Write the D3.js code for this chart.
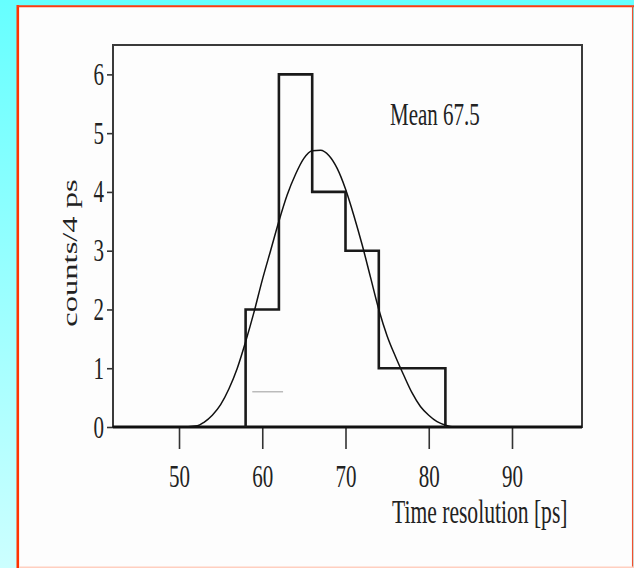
<!DOCTYPE html>
<html>
<head>
<meta charset="utf-8">
<script src="https://cdn.jsdelivr.net/npm/d3@7"></script>
<style>
  body { margin: 0; padding: 0; overflow: hidden; }
  text { font-family: "Liberation Serif", "Times New Roman", serif; fill: #222; }
</style>
</head>
<body>
<div id="main"></div>
<script>
const ctx = {
    w: 634,
    h: 568,
    plot: {left: 113, top: 45, right: 582, bottom: 427},
    STRETCH: 1.55,
    FONT: 21
};

// histogram bins (4 ps wide) and counts
const binEdges = [58, 62, 66, 70, 74, 78, 82];
const counts = [2, 6, 4, 3, 1, 1];
// fitted curve, points [ps, counts]
const fitCurve = [
    [42, 0], [50, 0], [52.2, 0.02], [53, 0.08], [54, 0.2], [55, 0.38], [56, 0.65],
    [57, 1.0], [58, 1.45], [59, 1.95], [60, 2.5], [61, 3.0], [62, 3.5], [63, 3.95],
    [64, 4.3], [65, 4.57], [66, 4.7], [67, 4.71], [68, 4.62], [69, 4.4], [70, 4.05],
    [71, 3.6], [72, 3.1], [73, 2.55], [74, 2.0], [75, 1.55], [76, 1.2], [77, 0.88],
    [78, 0.58], [79, 0.35], [80, 0.2], [81, 0.09], [82, 0.03], [83, 0], [88.5, 0]
];
// stray light grey dash in the original
const greyDash = [[58.8, 0.6], [62.5, 0.6]];
const xTicks = [50, 60, 70, 80, 90];
const yTicks = [0, 1, 2, 3, 4, 5, 6];
const xDomain = [42.07, 98.41];
const yDomain = [0, 6.5];
const xTitle = "Time resolution [ps]";
const yTitle = "counts/4 ps";
const note = "Mean 67.5";

function createViz(){
    let svgEl = d3.select("#main").append("svg")
        .attr("width", ctx.w)
        .attr("height", ctx.h);

    // page background: cyan fading down
    let grad = svgEl.append("defs").append("linearGradient")
        .attr("id", "bg")
        .attr("x1", 0).attr("y1", 0).attr("x2", 0).attr("y2", 1);
    grad.append("stop").attr("offset", "0%").attr("stop-color", "#66ffff");
    grad.append("stop").attr("offset", "100%").attr("stop-color", "#ccffff");
    svgEl.append("rect")
        .attr("width", ctx.w).attr("height", ctx.h)
        .attr("fill", "url(#bg)");

    // white slide panel with red edges
    svgEl.append("rect")
        .attr("x", 17).attr("y", 6)
        .attr("width", 616).attr("height", 562)
        .attr("fill", "#fdfdfd");
    svgEl.append("line").attr("x1", 17.8).attr("x2", 17.8).attr("y1", 5).attr("y2", 568)
        .attr("stroke", "#ff3300").attr("stroke-width", 2.6);
    svgEl.append("line").attr("x1", 17).attr("x2", 634).attr("y1", 6.2).attr("y2", 6.2)
        .attr("stroke", "#ff3a10").attr("stroke-width", 2);
    svgEl.append("line").attr("x1", 632.6).attr("x2", 632.6).attr("y1", 6).attr("y2", 568)
        .attr("stroke", "#f05030").attr("stroke-width", 1.3);
    svgEl.append("line").attr("x1", 19).attr("x2", 634).attr("y1", 567.3).attr("y2", 567.3)
        .attr("stroke", "#ffcfc0").attr("stroke-width", 1.4);

    drawChart(svgEl);
}

function drawChart(svgEl){
    let p = ctx.plot;
    let x = d3.scaleLinear().domain(xDomain).range([p.left, p.right]);
    let y = d3.scaleLinear().domain(yDomain).range([p.bottom, p.top]);
    let g = svgEl.append("g").attr("id", "chart");

    // frame
    g.append("rect")
        .attr("x", p.left).attr("y", p.top)
        .attr("width", p.right - p.left).attr("height", p.bottom - p.top)
        .attr("fill", "none")
        .attr("stroke", "#3a3a3a")
        .attr("stroke-width", 2);

    // x axis, long ticks hanging below
    let xAxis = g.append("g")
        .attr("transform", `translate(0,${p.bottom})`)
        .call(d3.axisBottom(x).tickValues(xTicks).tickFormat(d3.format("d"))
              .tickSize(22).tickSizeOuter(0));
    xAxis.select(".domain").remove();
    xAxis.selectAll(".tick line").attr("stroke", "#333").attr("stroke-width", 1.6);
    xAxis.selectAll(".tick text")
        .attr("y", 60 / ctx.STRETCH)
        .attr("dy", null)
        .attr("transform", `scale(1,${ctx.STRETCH})`)
        .style("font-size", ctx.FONT + "px")
        .attr("fill", "#222");

    // y axis, short ticks
    let yAxis = g.append("g")
        .attr("transform", `translate(${p.left},0)`)
        .call(d3.axisLeft(y).tickValues(yTicks).tickFormat(d3.format("d"))
              .tickSize(6).tickSizeOuter(0));
    yAxis.select(".domain").remove();
    yAxis.selectAll(".tick line").attr("stroke", "#333").attr("stroke-width", 1.6);
    yAxis.selectAll(".tick text")
        .attr("x", -9)
        .attr("y", 10 / ctx.STRETCH)
        .attr("dy", null)
        .attr("transform", `scale(1,${ctx.STRETCH})`)
        .style("font-size", ctx.FONT + "px")
        .attr("fill", "#222");

    // heavier baseline
    g.append("line")
        .attr("x1", p.left).attr("x2", p.right)
        .attr("y1", y(0)).attr("y2", y(0))
        .attr("stroke", "#111").attr("stroke-width", 3);

    // histogram outline
    let pts = [[binEdges[0], 0]];
    counts.forEach((c, i) => {
        pts.push([binEdges[i], c]);
        pts.push([binEdges[i + 1], c]);
    });
    pts.push([binEdges[binEdges.length - 1], 0]);
    let line = d3.line().x(d => x(d[0])).y(d => y(d[1]));
    g.append("path")
        .attr("d", line(pts))
        .attr("fill", "none")
        .attr("stroke", "#1a1a1a")
        .attr("stroke-width", 2.6);

    // fit curve
    g.append("path")
        .attr("d", d3.line().x(d => x(d[0])).y(d => y(d[1])).curve(d3.curveMonotoneX)(fitCurve))
        .attr("fill", "none")
        .attr("stroke", "#111")
        .attr("stroke-width", 1.5);

    g.append("path")
        .attr("d", line(greyDash))
        .attr("stroke", "#bbbbbb")
        .attr("stroke-width", 1.5);

    // labels
    g.append("text")
        .attr("transform", `translate(390,125) scale(1,${ctx.STRETCH})`)
        .style("font-size", ctx.FONT + "px")
        .text(note);
    g.append("text")
        .attr("transform", `translate(392,523) scale(1,${ctx.STRETCH})`)
        .style("font-size", (ctx.FONT + 0.6) + "px")
        .text(xTitle);
    g.append("text")
        .attr("transform", `translate(77,253) scale(1,${ctx.STRETCH}) rotate(-90)`)
        .attr("text-anchor", "middle")
        .style("font-size", ctx.FONT + "px")
        .text(yTitle);
}

createViz();
</script>
</body>
</html>
